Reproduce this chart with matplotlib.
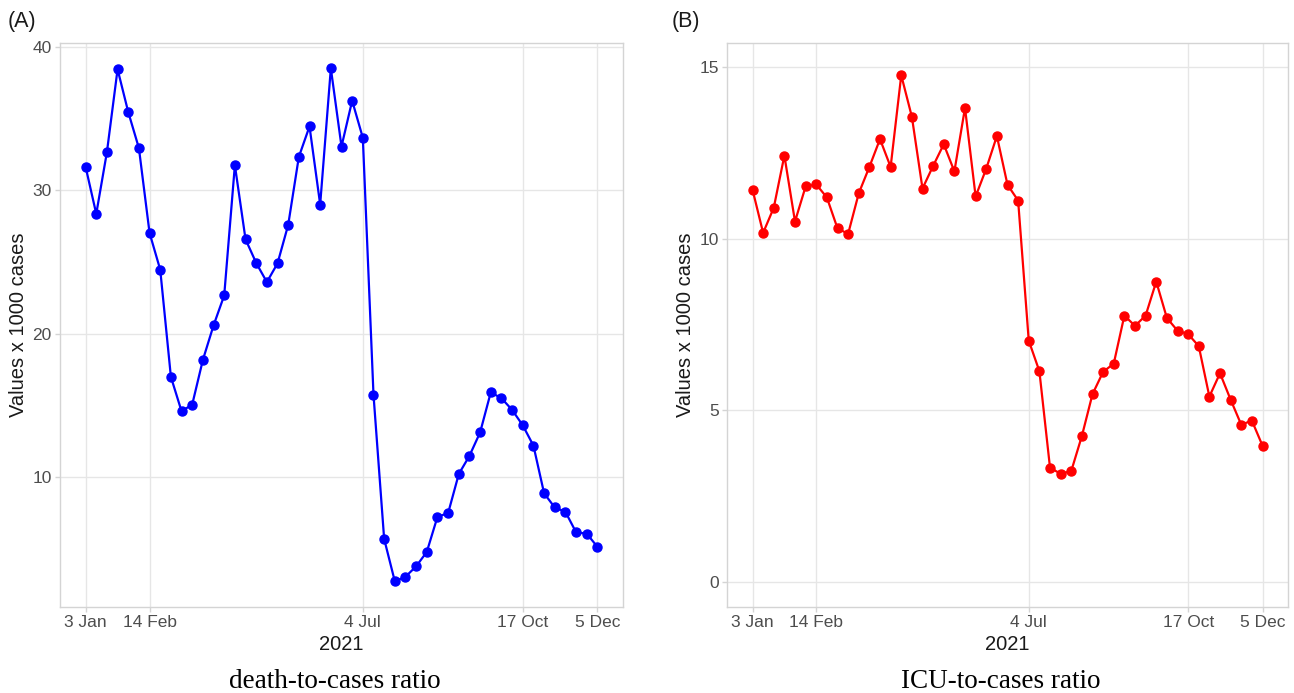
import matplotlib
matplotlib.use("Agg")
import matplotlib.pyplot as plt
import pandas as pd

# Data: weekly values, 3 Jan - 5 Dec 2021
weeks = pd.date_range("2021-01-03", periods=49, freq="7D")

death_ratio = [31.63, 28.35, 32.65, 38.42, 35.44, 32.93, 27.02, 24.46,
               17.0, 14.6, 15.07, 18.18, 20.58, 22.67, 31.74, 26.58,
               24.93, 23.6, 24.9, 27.58, 32.32, 34.44, 29.0, 38.49,
               33.04, 36.23, 33.65, 15.76, 5.71, 2.76, 3.08, 3.8,
               4.81, 7.25, 7.51, 10.23, 11.5, 13.13, 15.92, 15.51,
               14.7, 13.62, 12.21, 8.89, 7.9, 7.6, 6.17, 6.08, 5.16]

icu_ratio = [11.43, 10.17, 10.9, 12.42, 10.5, 11.52, 11.58, 11.2,
             10.3, 10.14, 11.32, 12.09, 12.9, 12.09, 14.76, 13.55,
             11.46, 12.12, 12.75, 11.96, 13.81, 11.23, 12.04, 12.99,
             11.57, 11.11, 7.03, 6.14, 3.33, 3.15, 3.23, 4.25,
             5.47, 6.12, 6.36, 7.76, 7.46, 7.76, 8.75, 7.69,
             7.32, 7.22, 6.87, 5.40, 6.08, 5.31, 4.58, 4.70, 3.97]

tick_dates = pd.to_datetime(["2021-01-03", "2021-02-14", "2021-07-04",
                             "2021-10-17", "2021-12-05"])
tick_labels = ["3 Jan", "14 Feb", "4 Jul", "17 Oct", "5 Dec"]

plt.rcParams["font.family"] = ["Liberation Sans", "DejaVu Sans"]

fig = plt.figure(figsize=(12.94, 6.93), dpi=100)
ax_a = fig.add_axes([60 / 1294, 86 / 693, 563 / 1294, 564 / 693])
ax_b = fig.add_axes([727 / 1294, 86 / 693, 561 / 1294, 564 / 693])

span = weeks[-1] - weeks[0]
xlim = (weeks[0] - span * 0.05, weeks[-1] + span * 0.05)


def style(ax, values, color, ylim, yticks):
    ax.plot(weeks, values, color=color, lw=1.6, marker="o", ms=6.5,
            zorder=3)
    ax.set_xlim(xlim)
    ax.set_ylim(ylim)
    ax.set_yticks(yticks)
    ax.set_xticks(tick_dates)
    ax.set_xticklabels(tick_labels)
    ax.grid(True, color="#e6e6e6", lw=1.0)
    ax.set_axisbelow(True)
    for s in ax.spines.values():
        s.set_color("#d4d4d4")
        s.set_linewidth(1.0)
    ax.tick_params(colors="#d4d4d4", labelcolor="#4d4d4d", labelsize=12.5,
                   length=3.5, width=1.0, pad=2.5)
    ax.set_xlabel("2021", fontsize=14.5, color="#1a1a1a", labelpad=3)
    ax.set_ylabel("Values x 1000 cases", fontsize=14.5, color="#1a1a1a",
                  labelpad=3)


style(ax_a, death_ratio, "#0000ff", (0.97, 40.25), [10, 20, 30, 40])
style(ax_b, icu_ratio, "#ff0000", (-0.73, 15.7), [0, 5, 10, 15])

fig.text(8 / 1294, 1 - 22 / 693, "(A)", fontsize=15.5, va="center",
         ha="left", color="#1a1a1a")
fig.text(672 / 1294, 1 - 22 / 693, "(B)", fontsize=15.5, va="center",
         ha="left", color="#1a1a1a")

fig.text(335 / 1294, 1 - 681 / 693, "death-to-cases ratio",
         family="Liberation Serif", fontsize=19.5, ha="center", va="center")
fig.text(1001 / 1294, 1 - 681 / 693, "ICU-to-cases ratio",
         family="Liberation Serif", fontsize=19.5, ha="center", va="center")

fig.savefig("out.png", dpi=100)
